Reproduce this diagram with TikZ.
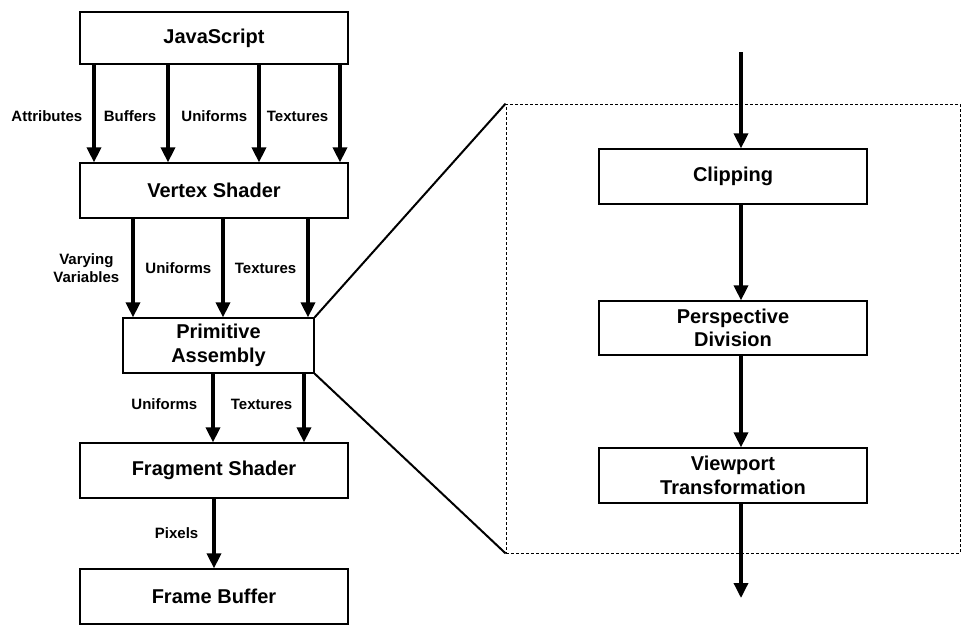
\documentclass[tikz,border=0pt]{standalone}
\usepackage{fontspec}
\setmainfont{Liberation Sans}
\usetikzlibrary{arrows.meta, shadows}
\tikzset{
stage/.style={draw, line width=1.2pt, fill=white, minimum width=268pt, minimum height=55pt,
  align=center, font=\fontsize{20}{23.5}\selectfont\bfseries,
  drop shadow={shadow xshift=1pt, shadow yshift=-1pt, opacity=.25}}, % the boxes of the pipeline
lab/.style={font=\fontsize{15}{17.5}\selectfont\bfseries, align=center, inner sep=2pt}, % the texts beside the arrows
flow/.style={line width=3.4pt, -{Triangle[width=14pt,length=15pt]}}, % the thick arrows
zoomline/.style={line width=2pt}, % the lines to the enlarged view
zoombox/.style={draw, dash pattern=on 3pt off 2pt, line width=.8pt, minimum width=454pt, minimum height=449pt},
}
\begin{document}
\begin{tikzpicture}[x=1pt, y=-1pt]
      \useasboundingbox (0,0) rectangle (970,635);
      % the pipeline
      \node[stage, minimum height=52pt] (js) at (214,38) {JavaScript};
      \node[stage] (vs) at (214,190.5) {Vertex Shader};
      \node[stage, minimum width=191pt] (pa) at (218.5,345.5) {Primitive\\Assembly};
      \node[stage] (fs) at (214,470.5) {Fragment Shader};
      \node[stage] (fb) at (214,596.5) {Frame Buffer};
      % the enlarged view of the primitive assembly
      \node[zoombox] (zoom) at (733,328.5) {};
      \node[stage] (clip) at (733,176.5) {Clipping};
      \node[stage, minimum height=54pt] (persp) at (733,328) {Perspective\\Division};
      \node[stage] (view) at (733,475.5) {Viewport\\Transformation};
      \coordinate (in) at (741,52);
      \coordinate (out) at (741,598);
      \draw[flow] (js.south -| 94,0) -- node[lab, left=8pt, yshift=-3pt]{Attributes} (vs.north -| 94,0);
      \draw[flow] (js.south -| 168,0) -- node[lab, left=8pt, yshift=-3pt]{Buffers} (vs.north -| 168,0);
      \draw[flow] (js.south -| 259,0) -- node[lab, left=8pt, yshift=-3pt]{Uniforms} (vs.north -| 259,0);
      \draw[flow] (js.south -| 340,0) -- node[lab, left=8pt, yshift=-3pt]{Textures} (vs.north -| 340,0);
      \draw[flow] (vs.south -| 133,0) -- node[lab, left=10pt]{Varying\\Variables} (pa.north -| 133,0);
      \draw[flow] (vs.south -| 223,0) -- node[lab, left=8pt]{Uniforms} (pa.north -| 223,0);
      \draw[flow] (vs.south -| 308,0) -- node[lab, left=8pt]{Textures} (pa.north -| 308,0);
      \draw[flow] (pa.south -| 213,0) -- node[lab, left=12pt, yshift=4pt]{Uniforms} (fs.north -| 213,0);
      \draw[flow] (pa.south -| 304,0) -- node[lab, left=8pt, yshift=4pt]{Textures} (fs.north -| 304,0);
      \draw[flow] (fs.south) -- node[lab, left=12pt]{Pixels} (fb.north);
      \draw[zoomline] (pa.north east) -- (zoom.north west)
      (pa.south east) -- (zoom.south west);
      \draw[flow] (in) -- (clip.north -| in);
      \draw[flow] (clip.south -| in) -- (persp.north -| in);
      \draw[flow] (persp.south -| in) -- (view.north -| in);
      \draw[flow] (view.south -| in) -- (out);
    \end{tikzpicture}
\end{document}
